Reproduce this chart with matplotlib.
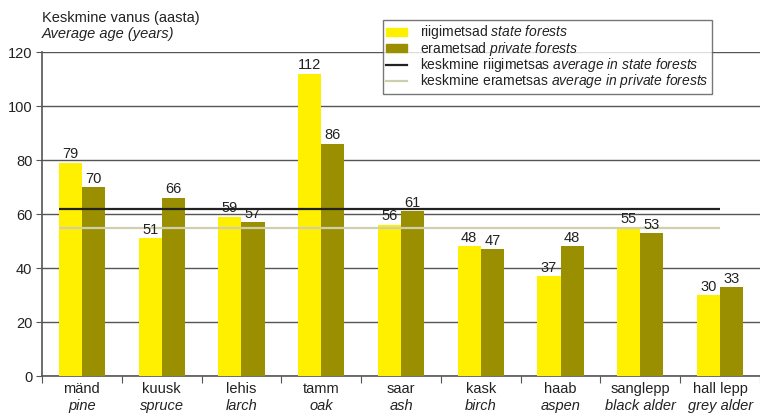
import numpy as np
import matplotlib.pyplot as plt
from matplotlib.patches import Patch
from matplotlib.lines import Line2D

# data
species_et = ["mänd", "kuusk", "lehis", "tamm", "saar", "kask", "haab", "sanglepp", "hall lepp"]
species_en = ["pine", "spruce", "larch", "oak", "ash", "birch", "aspen", "black alder", "grey alder"]
state_age = [79, 51, 59, 112, 56, 48, 37, 55, 30]
private_age = [70, 66, 57, 86, 61, 47, 48, 53, 33]
avg_state = 62
avg_private = 55

plt.rcParams['font.family'] = ['Liberation Sans', 'DejaVu Sans']
plt.rcParams['mathtext.fontset'] = 'custom'
plt.rcParams['mathtext.rm'] = 'Liberation Sans'
plt.rcParams['mathtext.it'] = 'Liberation Sans:italic'

yellow = '#fff000'
olive = '#9a8f00'
grid_col = '#555555'
txt_col = '#222222'
fs = 10.5

fig = plt.figure(figsize=(7.6, 4.13), dpi=100)
ax = fig.add_axes([42 / 760, 37 / 413, 1 - 42 / 760, 324 / 413])

x = np.arange(len(species_et))
w = 0.29
b1 = ax.bar(x - w / 2, state_age, w, color=yellow, zorder=3)
b2 = ax.bar(x + w / 2, private_age, w, color=olive, zorder=3)
for t in ax.bar_label(b1, padding=1, fontsize=fs, color=txt_col):
    t.set_zorder(6)
for t in ax.bar_label(b2, padding=1, fontsize=fs, color=txt_col):
    t.set_zorder(6)

ax.hlines(avg_state, -w, x[-1], color=txt_col, lw=1.6, zorder=4)
ax.hlines(avg_private, -w, x[-1], color='#cfcfb0', lw=1.6, zorder=4)

ax.set_ylim(0, 120)
ax.set_xlim(-0.5, 8.46)
ax.set_yticks(range(0, 121, 20))
ax.tick_params(axis='y', labelsize=fs, length=4, color=grid_col, pad=3, labelcolor=txt_col)
ax.yaxis.grid(True, color=grid_col, lw=1, zorder=0)

# category boundary ticks, labels drawn by hand
ax.set_xticks(np.arange(-0.5, 9, 1))
ax.set_xticklabels([])
ax.tick_params(axis='x', length=5, color=grid_col, direction='out')
for i in range(len(species_et)):
    ax.text(i, -0.018, species_et[i], transform=ax.get_xaxis_transform(),
            ha='center', va='top', fontsize=fs, color=txt_col)
    ax.text(i, -0.071, species_en[i], transform=ax.get_xaxis_transform(),
            ha='center', va='top', fontsize=fs, style='italic', color=txt_col)

for s in ['top', 'right']:
    ax.spines[s].set_visible(False)
for s in ['left', 'bottom']:
    ax.spines[s].set_color(grid_col)
    ax.spines[s].set_linewidth(1.2)

fig.text(42 / 760, 1 - 18 / 413, "Keskmine vanus (aasta)", fontsize=fs, va='center', color=txt_col)
fig.text(42 / 760, 1 - 34 / 413, "Average age (years)", fontsize=fs, va='center', style='italic', color=txt_col)

handles = [Patch(color=yellow), Patch(color=olive),
           Line2D([], [], color=txt_col, lw=1.6),
           Line2D([], [], color='#cfcfb0', lw=1.6)]
labels = [r"riigimetsad $\it{state\ forests}$",
          r"erametsad $\it{private\ forests}$",
          r"keskmine riigimetsas $\it{average\ in\ state\ forests}$",
          r"keskmine erametsas $\it{average\ in\ private\ forests}$"]
leg = fig.legend(handles, labels, loc='upper left', bbox_to_anchor=(383 / 760, 1 - 20 / 413),
                 fontsize=10, frameon=True, fancybox=False, edgecolor=grid_col,
                 borderpad=0.25, labelspacing=-0.12, handlelength=1.5, handleheight=0.5,
                 handletextpad=0.9, borderaxespad=0)
leg.get_frame().set_linewidth(1)
for t in leg.get_texts():
    t.set_color(txt_col)

fig.savefig('out.png', dpi=100)
